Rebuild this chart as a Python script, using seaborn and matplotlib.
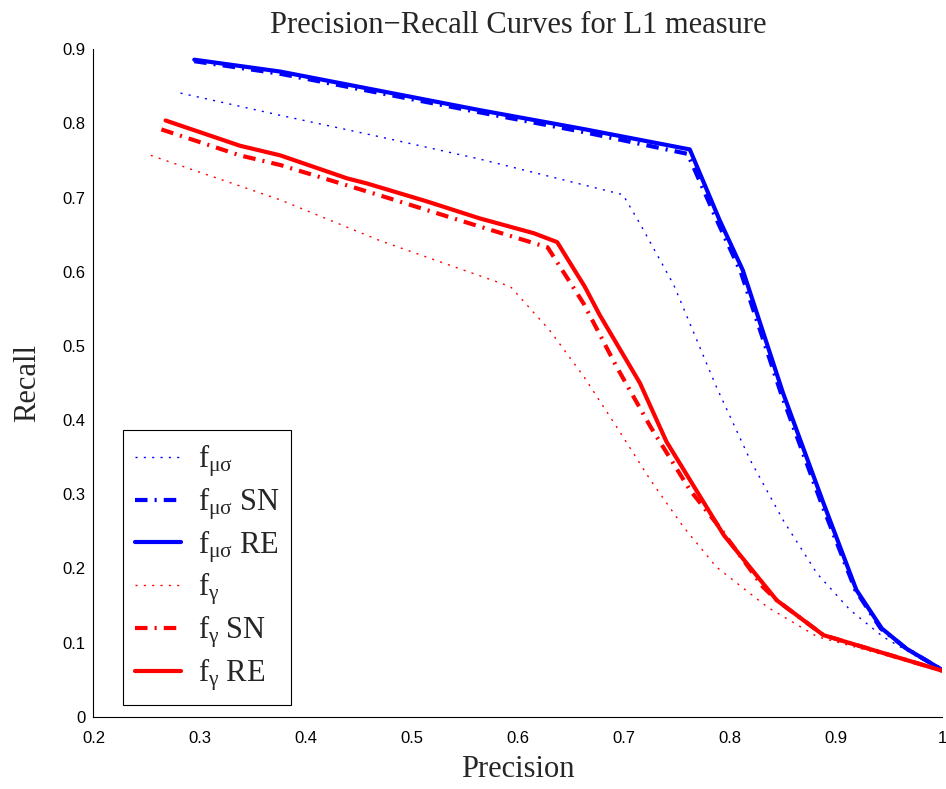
import matplotlib
matplotlib.use("Agg")
import matplotlib.pyplot as plt
import seaborn as sns
import pandas as pd

# ---------------- data ----------------
title = "Precision\u2212Recall Curves for L1 measure"
x_label = "Precision"
y_label = "Recall"

x_ticks = [0.2, 0.3, 0.4, 0.5, 0.6, 0.7, 0.8, 0.9, 1.0]
x_ticklabels = ["0.2", "0.3", "0.4", "0.5", "0.6", "0.7", "0.8", "0.9", "1"]
y_ticks = [0, 0.1, 0.2, 0.3, 0.4, 0.5, 0.6, 0.7, 0.8, 0.9]
y_ticklabels = ["0", "0.1", "0.2", "0.3", "0.4", "0.5", "0.6", "0.7", "0.8", "0.9"]

labels = [r"$\mathrm{f_{\mu\sigma}}$",
          r"$\mathrm{f_{\mu\sigma}\ SN}$",
          r"$\mathrm{f_{\mu\sigma}\ RE}$",
          r"$\mathrm{f_{\gamma}}$",
          r"$\mathrm{f_{\gamma}\ SN}$",
          r"$\mathrm{f_{\gamma}\ RE}$"]

mu_x = [0.282, 0.376, 0.470, 0.564, 0.699, 0.715, 0.747, 0.787, 0.819, 0.850,
        0.882, 0.913, 0.944, 0.976, 1.0]
mu_y = [0.841, 0.811, 0.782, 0.752, 0.704, 0.665, 0.582, 0.445, 0.346, 0.265,
        0.193, 0.144, 0.108, 0.081, 0.063]

mu_sn_x = [0.295, 0.376, 0.470, 0.564, 0.660, 0.760, 0.788, 0.810, 0.848, 0.886,
           0.918, 0.942, 0.966, 1.0]
mu_sn_y = [0.884, 0.867, 0.841, 0.815, 0.789, 0.759, 0.668, 0.600, 0.436, 0.288,
           0.171, 0.119, 0.092, 0.063]

mu_re_x = [0.295, 0.376, 0.470, 0.564, 0.660, 0.762, 0.790, 0.812, 0.850, 0.888,
           0.919, 0.943, 0.966, 1.0]
mu_re_y = [0.886, 0.870, 0.844, 0.818, 0.793, 0.765, 0.670, 0.602, 0.436, 0.288,
           0.171, 0.119, 0.092, 0.063]

g_x = [0.254, 0.376, 0.470, 0.593, 0.630, 0.662, 0.693, 0.725, 0.756, 0.787,
       0.835, 0.882, 1.0]
g_y = [0.757, 0.697, 0.642, 0.580, 0.521, 0.459, 0.391, 0.319, 0.256, 0.202,
       0.148, 0.108, 0.062]

g_sn_x = [0.264, 0.338, 0.376, 0.470, 0.564, 0.628, 0.662, 0.693, 0.725, 0.762,
          0.787, 0.831, 0.844, 0.888, 1.0]
g_sn_y = [0.792, 0.757, 0.744, 0.703, 0.661, 0.633, 0.557, 0.472, 0.391, 0.306,
          0.261, 0.175, 0.157, 0.110, 0.062]

g_re_x = [0.268, 0.338, 0.376, 0.439, 0.458, 0.514, 0.564, 0.615, 0.637, 0.663,
          0.677, 0.715, 0.740, 0.794, 0.844, 0.888, 1.0]
g_re_y = [0.804, 0.770, 0.757, 0.726, 0.719, 0.695, 0.672, 0.652, 0.640, 0.580,
          0.542, 0.450, 0.371, 0.245, 0.157, 0.110, 0.062]

# ---------------- style ----------------
sns.set_style("white")
plt.rcParams.update({
    "font.family": ["Liberation Serif", "DejaVu Serif"],
    "mathtext.fontset": "custom",
    "mathtext.rm": "Liberation Serif",
    "mathtext.it": "Liberation Serif:italic",
    "mathtext.bf": "Liberation Serif:bold",
})

fig = plt.figure(figsize=(9.46, 7.89), dpi=100)
ax = fig.add_axes([0.0988, 0.0916, 0.8973, 0.8459])

series = [
    (mu_x, mu_y, labels[0], (0, 0, 1), 1.0, (0, (1.5, 4.5))),
    (mu_sn_x, mu_sn_y, labels[1], (0, 0, 1), 3.0, (0, (3.0, 1.7, 0.5, 1.7))),
    (mu_re_x, mu_re_y, labels[2], (0, 0, 1), 3.0, "-"),
    (g_x, g_y, labels[3], (1, 0, 0), 1.0, (0, (1.5, 4.5))),
    (g_sn_x, g_sn_y, labels[4], (1, 0, 0), 3.0, (0, (3.0, 1.7, 0.5, 1.7))),
    (g_re_x, g_re_y, labels[5], (1, 0, 0), 3.0, "-"),
]

for xs, ys, lab, col, lw, ls in series:
    df = pd.DataFrame({"x": xs, "y": ys})
    sns.lineplot(data=df, x="x", y="y", ax=ax, color=col, linewidth=lw,
                 linestyle=ls, label=lab, sort=False, estimator=None)

ax.set_xlim(0.2, 1.0)
ax.set_ylim(0, 0.9)
ax.set_xticks(x_ticks)
ax.set_xticklabels(x_ticklabels)
ax.set_yticks(y_ticks)
ax.set_yticklabels(y_ticklabels)
for t in ax.get_xticklabels() + ax.get_yticklabels():
    t.set_family(["Liberation Sans", "DejaVu Sans"])
    t.set_fontsize(12)
ax.tick_params(direction="in", length=6, width=0.8, colors="black",
               top=False, right=False)
ax.tick_params(axis="x", pad=10)
ax.tick_params(axis="y", pad=6)

sns.despine(ax=ax, top=True, right=True)
for s in ["left", "bottom"]:
    ax.spines[s].set_color("black")
    ax.spines[s].set_linewidth(0.8)

ax.set_title(title, fontsize=22, pad=12)
ax.set_xlabel(x_label, fontsize=22, labelpad=7)
ax.set_ylabel(y_label, fontsize=22, labelpad=14)

leg = ax.legend(loc="lower left", bbox_to_anchor=(0.0344, 0.0175),
                fontsize=22, handlelength=1.5, handletextpad=0.55,
                labelspacing=0.2, borderpad=0.4, fancybox=False,
                framealpha=1, edgecolor="black", borderaxespad=0)
leg.get_frame().set_linewidth(0.8)

fig.savefig("out.png", dpi=100)
